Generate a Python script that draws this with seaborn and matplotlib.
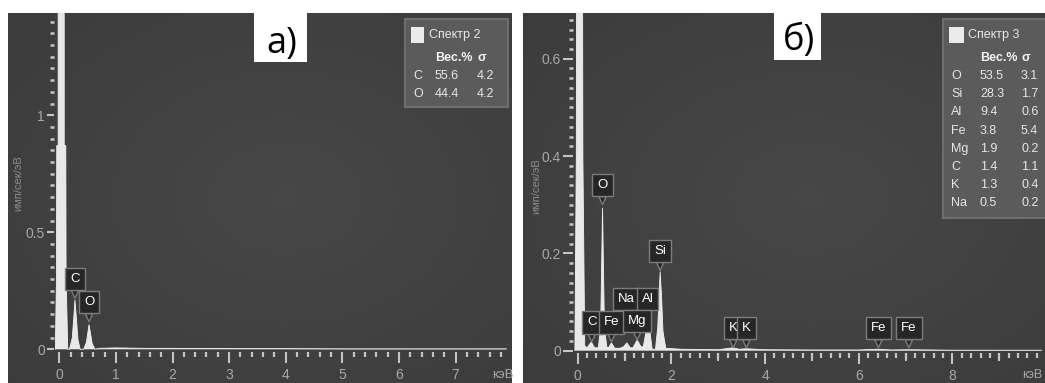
import numpy as np
import matplotlib
matplotlib.use("Agg")
import matplotlib.pyplot as plt
import seaborn as sns
from matplotlib.patches import Rectangle
from matplotlib.ticker import FixedLocator, FixedFormatter

# ---------------- data ----------------
# panel a) spectrum outline: energy (keV) and intensity (imp/s/eV)
energy_a = [-0.07, -0.05, -0.045, -0.02, -0.02, 0.087, 0.087, 0.115, 0.12, 0.15,
            0.18, 0.23, 0.26, 0.277, 0.30, 0.33, 0.37,
            0.43, 0.48, 0.51, 0.525, 0.55, 0.58, 0.63,
            0.70, 1.0, 1.5, 2.0, 3.0, 4.0, 5.0, 6.0, 7.0, 7.9]
counts_a = [0.0, 0.3, 0.87, 0.87, 2.0, 2.0, 0.87, 0.87, 0.3, 0.0,
            0.0, 0.05, 0.15, 0.21, 0.14, 0.04, 0.0,
            0.0, 0.03, 0.08, 0.105, 0.07, 0.025, 0.0,
            0.004, 0.006, 0.004, 0.004, 0.003, 0.003, 0.002, 0.002, 0.002, 0.002]
labels_a = ["C", "O"]
label_energy_a = [0.277, 0.525]
label_height_a = [0.218, 0.118]
xticks_a = [0, 1, 2, 3, 4, 5, 6, 7]
yticks_a = [0, 0.5, 1]
ytick_labels_a = ["0", "0.5", "1"]
legend_title_a = "Спектр 2"
elements_a = ["C", "O"]
wt_a = ["55.6", "44.4"]
sigma_a = ["4.2", "4.2"]

# panel б) spectrum outline
energy_b = [-0.06, -0.03, -0.02, 0.10, 0.11, 0.15,
            0.20, 0.29, 0.36,
            0.44, 0.49, 0.515, 0.53, 0.545, 0.57, 0.62,
            0.66, 0.72, 0.79,
            0.90, 0.98, 1.05, 1.12,
            1.18, 1.27, 1.35,
            1.40, 1.46, 1.50, 1.54, 1.59,
            1.66, 1.71, 1.74, 1.76, 1.79, 1.82, 1.88,
            2.2, 3.0, 3.31, 3.45, 3.59, 4.0, 5.0, 6.0, 6.4, 6.7, 7.06, 8.0, 9.9]
counts_b = [0.0, 0.4, 1.0, 1.0, 0.4, 0.01,
            0.006, 0.018, 0.006,
            0.006, 0.05, 0.2, 0.293, 0.2, 0.05, 0.008,
            0.006, 0.016, 0.005,
            0.005, 0.008, 0.016, 0.006,
            0.006, 0.022, 0.008,
            0.008, 0.04, 0.07, 0.04, 0.003,
            0.003, 0.05, 0.12, 0.162, 0.11, 0.04, 0.005,
            0.003, 0.002, 0.006, 0.003, 0.004, 0.002, 0.0015, 0.0015, 0.003, 0.0015, 0.002, 0.001, 0.001]
labels_b = ["O", "Si", "Na", "Al", "C", "Fe", "Mg", "K", "K", "Fe", "Fe"]
label_energy_b = [0.53, 1.76, 1.04, 1.49, 0.30, 0.72, 1.27, 3.32, 3.60, 6.42, 7.07]
label_height_b = [0.30, 0.165, 0.067, 0.067, 0.018, 0.018, 0.022, 0.006, 0.006, 0.006, 0.006]
xticks_b = [0, 2, 4, 6, 8]
xticks_mid_b = [1, 3, 5, 7, 9]
yticks_b = [0, 0.2, 0.4, 0.6]
ytick_labels_b = ["0", "0.2", "0.4", "0.6"]
legend_title_b = "Спектр 3"
elements_b = ["O", "Si", "Al", "Fe", "Mg", "C", "K", "Na"]
wt_b = ["53.5", "28.3", "9.4", "3.8", "1.9", "1.4", "1.3", "0.5"]
sigma_b = ["3.1", "1.7", "0.6", "5.4", "0.2", "1.1", "0.4", "0.2"]

# ---------------- style ----------------
sns.set_theme(style="white")
FONT = ["Liberation Sans", "DejaVu Sans"]
plt.rcParams["font.family"] = FONT

W, H = 1045, 383
fig = plt.figure(figsize=(W / 100, H / 100), dpi=100)
fig.patch.set_facecolor("white")

TICK_C = "#c4c4c4"
LAB_C = "#a8a8a8"


def fx(px):
    return px / W


def fy(py):
    return 1 - py / H


def background(ax):
    yy, xx = np.mgrid[0:1:200j, 0:1:200j]
    r = np.sqrt(((xx - 0.55) / 0.9) ** 2 + ((yy - 0.5) / 0.9) ** 2)
    g = 0.28 - 0.055 * np.clip(r, 0, 1)
    img = np.dstack([g, g, g])
    ax.imshow(img, extent=(0, 1, 0, 1), transform=ax.transAxes,
              aspect="auto", zorder=0, interpolation="bilinear")


def panel(rect_px, xlim, ylim, spine_x, spine_y, energy, counts, labels,
          lab_e, lab_h, xticks, yticks, yticklabels, ymin_step, ytick_len, xmin_end):
    x0, y0, x1, y1 = rect_px
    ax = fig.add_axes([fx(x0), fy(y1), (x1 - x0) / W, (y1 - y0) / H])
    background(ax)
    ax.fill_between(energy, counts, 0, color="#e8e8e8", lw=0, zorder=2)
    sns.lineplot(x=energy, y=counts, ax=ax, sort=False, estimator=None,
                 color="#f2f2f2", lw=0.6, zorder=3)
    for lab, e, h in zip(labels, lab_e, lab_h):
        ax.annotate(lab, xy=(e, h), xytext=(0, 14), textcoords="offset points",
                    ha="center", va="center", fontsize=9.5, color="white",
                    family=FONT, zorder=6,
                    bbox=dict(boxstyle="square,pad=0.38", fc="#262626",
                              ec="#7c7c7c", lw=1),
                    arrowprops=dict(arrowstyle="wedge,tail_width=0.55,shrink_factor=0.5",
                                    fc="#262626", ec="#7c7c7c", lw=1,
                                    shrinkA=0, shrinkB=0))
    ax.set_xlim(*xlim)
    ax.set_ylim(*ylim)
    for s in ["top", "right"]:
        ax.spines[s].set_visible(False)
    ax.spines["left"].set_position(("data", spine_x))
    ax.spines["bottom"].set_position(("data", spine_y))
    ax.spines["left"].set_color("none")
    ax.spines["bottom"].set_color("none")
    ax.xaxis.set_major_locator(FixedLocator(xticks))
    ax.xaxis.set_major_formatter(FixedFormatter([str(t) for t in xticks]))
    ax.xaxis.set_minor_locator(FixedLocator(np.arange(0, xmin_end, 0.2)))
    ax.yaxis.set_major_locator(FixedLocator(yticks))
    ax.yaxis.set_major_formatter(FixedFormatter(yticklabels))
    ax.yaxis.set_minor_locator(FixedLocator(np.arange(0, ylim[1], ymin_step)))
    ax.tick_params(axis="x", which="both", bottom=True, top=False)
    ax.tick_params(axis="y", which="both", left=True, right=False)
    ax.tick_params(axis="x", which="major", direction="out", length=8, width=1.5,
                   color=TICK_C, labelcolor=LAB_C, labelsize=10, pad=3.5)
    ax.tick_params(axis="x", which="minor", direction="out", length=3.5, width=1.6,
                   color=TICK_C)
    ax.tick_params(axis="y", which="major", direction="out", length=ytick_len, width=1.5,
                   color=TICK_C, labelcolor=LAB_C, labelsize=10, pad=1.5)
    ax.tick_params(axis="y", which="minor", direction="out", length=3, width=1.8,
                   color=TICK_C)
    ax.set_xlabel("")
    ax.set_ylabel("")
    ax.grid(False)
    return ax


# panel a
ax_a = panel((8, 13, 512, 383), (-0.906, 7.996), (-0.144, 1.437), -0.094, -0.0115,
             energy_a, counts_a, labels_a, label_energy_a, label_height_a,
             xticks_a, yticks_a, ytick_labels_a, 0.05, 5, 7.9)
# panel б
ax_b = panel((523, 13, 1045, 383), (-1.168, 9.975), (-0.0664, 0.694), -0.10, -0.004,
             energy_b, counts_b, labels_b, label_energy_b, label_height_b,
             xticks_b, yticks_b, ytick_labels_b, 0.02, 7, 9.95)
frac = (-0.004 + 0.0664) / (0.694 + 0.0664)
sec = ax_b.secondary_xaxis(frac)
sec.set_xticks(xticks_mid_b)
sec.tick_params(axis="x", which="major", direction="out", length=5.5, width=1.5,
                color=TICK_C, bottom=True, labelbottom=False)
sec.xaxis.set_minor_locator(FixedLocator([]))
sec.spines["bottom"].set_color("none")

# unit labels
fig.text(fx(492), fy(375), "кэВ", color=LAB_C, fontsize=9.5, va="center", ha="left", family=FONT)
fig.text(fx(1042), fy(375), "кэВ", color=LAB_C, fontsize=9, va="center", ha="right", family=FONT)
fig.text(fx(18), fy(183), "имп/сек/эВ", color="#8c8c8c", fontsize=8, rotation=90,
         va="center", ha="center", family=FONT)
fig.text(fx(536), fy(186), "имп/сек/эВ", color="#8c8c8c", fontsize=8, rotation=90,
         va="center", ha="center", family=FONT)

# panel letters
for (bx0, bx1, by1, tx, ty, txt) in [(254, 307, 62, 282, 53, "а)"), (774, 821, 60, 799, 50, "б)")]:
    fig.add_artist(Rectangle((fx(bx0), fy(by1)), (bx1 - bx0) / W, by1 / H,
                             transform=fig.transFigure, fc="white", ec="none", zorder=10))
    fig.text(fx(tx), fy(ty), txt, fontsize=26, color="black", ha="center", va="baseline",
             family=["Open Sans", "DejaVu Sans"], zorder=11)


# legends
def legend(box, sq, title_x, col_x, rows_y, title, elements, wt, sigma):
    bx0, by0, bx1, by1 = box
    fig.add_artist(Rectangle((fx(bx0), fy(by1)), (bx1 - bx0) / W, (by1 - by0) / H,
                             transform=fig.transFigure, fc="#5b5b5b", ec="#6e6e6e",
                             lw=1.5, zorder=10))
    sx0, sy0, sx1, sy1 = sq
    fig.add_artist(Rectangle((fx(sx0), fy(sy1)), (sx1 - sx0) / W, (sy1 - sy0) / H,
                             transform=fig.transFigure, fc="#ebebeb", ec="none", zorder=11))
    fig.text(fx(title_x), fy(35), title, color="#e6e6e6", fontsize=9, va="center",
             ha="left", family=FONT, zorder=12)
    fig.text(fx(col_x[1]), fy(58), "Вес.%", color="#f2f2f2", fontsize=9, va="center",
             ha="left", weight="bold", family=FONT, zorder=12)
    fig.text(fx(col_x[2]), fy(58), "σ", color="#f2f2f2", fontsize=9, va="center",
             ha="left", weight="bold", family=FONT, zorder=12)
    for i, (el, w, s) in enumerate(zip(elements, wt, sigma)):
        y = rows_y[0] + i * rows_y[1]
        for x, t in zip(col_x, (el, w, s)):
            fig.text(fx(x), fy(y), t, color="#e6e6e6", fontsize=9, va="center",
                     ha="left", family=FONT, zorder=12)


legend((405, 19, 508, 107), (411, 27, 424, 43), 429, (413, 435, 477), (76, 18),
       legend_title_a, elements_a, wt_a, sigma_a)
legend((943, 19, 1050, 218), (949, 27, 964, 43), 968, (951, 980, 1021), (76, 18.2),
       legend_title_b, elements_b, wt_b, sigma_b)

fig.savefig("out.png", dpi=100, facecolor="white")
